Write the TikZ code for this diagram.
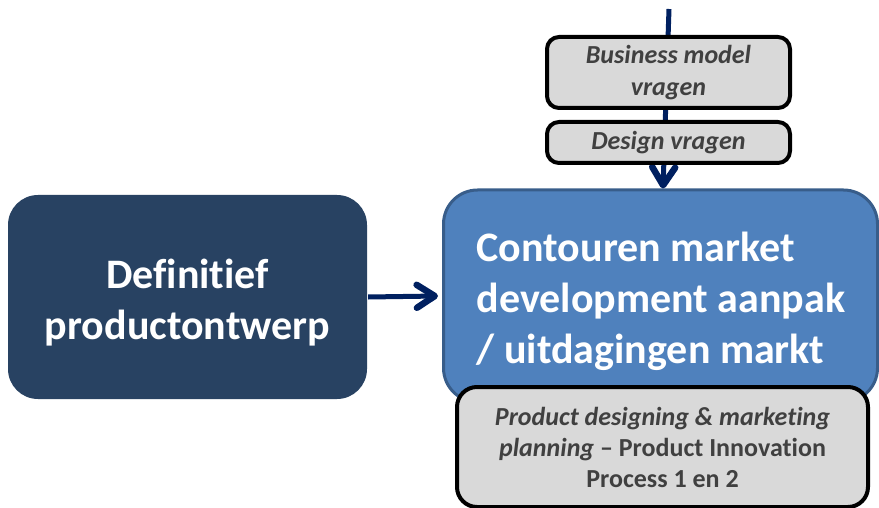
\documentclass[tikz,border=0pt]{standalone}
\usepackage{fontspec}
\setmainfont{Carlito}[RawFeature={-liga;-clig;-dlig}]
\usetikzlibrary{arrows.meta}
\definecolor{navybox}{HTML}{284262}
\definecolor{bluebox}{HTML}{4F81BD}
\definecolor{blueline}{HTML}{385D8A}
\definecolor{arrownavy}{HTML}{002060}
\definecolor{grayfill}{HTML}{D9D9D9}
\definecolor{graytext}{HTML}{404040}
\tikzset{
  graybox/.style={draw=black, line width=4pt, fill=grayfill, rounded corners=12pt,
    text=graytext, font=\bfseries, align=center, inner sep=0pt},
  bigtext/.style={text=white, font=\bfseries\fontsize{42}{51}\selectfont, inner sep=0pt},
  conn/.style={draw=arrownavy, line width=5pt, -{Straight Barb[length=18pt,width=23pt,line width=6.5pt,round]}},
}
\begin{document}
\begin{tikzpicture}[x=1pt,y=-1pt]
\useasboundingbox (0,0) rectangle (879,508);
\coordinate (vtop) at (669,9);
% left box
\node[draw=none, fill=navybox, rounded corners=30pt, minimum width=359pt, minimum height=204pt, inner sep=0pt] (def) at (187.5,297) {};
\node[bigtext, align=center] (deftext) at (187.5,303) {Definitief\\productontwerp};
% big blue box
\node[draw=blueline, line width=3pt, fill=bluebox, rounded corners=34pt, minimum width=434pt, minimum height=212pt, inner sep=0pt] (cont) at (660.5,296) {};
\node[bigtext, align=left] (conttext) at (661,301) {Contouren market\\development aanpak\\/ uitdagingen markt};
% vertical connector (behind the small boxes)
\draw[conn] (vtop) -- (cont.north -| 663,0);
\node[graybox, minimum width=243pt, minimum height=71pt, font=\bfseries\itshape\fontsize{26}{32}\selectfont] (bm) at (668.5,72.5) {Business model\\vragen};
\node[graybox, minimum width=243pt, minimum height=41pt, font=\bfseries\itshape\fontsize{26}{32}\selectfont] (dv) at (668.5,142.5) {Design vragen};
% bottom gray box
\node[graybox, rounded corners=20pt, minimum width=411pt, minimum height=120pt, font=\bfseries\fontsize{26}{31}\selectfont] (pd) at (662.5,447) {\textit{Product designing \& marketing}\\\textit{planning} – Product Innovation\\Process 1 en 2};
% horizontal connector
\draw[conn] (def.east) ++(1,0) coordinate (hs) -- (cont.west -| 438,0);
\end{tikzpicture}
\end{document}
